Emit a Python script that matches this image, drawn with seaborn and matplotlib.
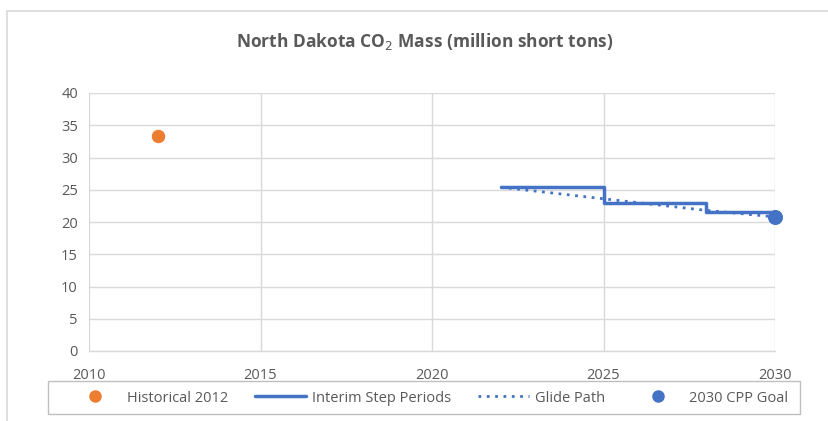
import matplotlib
matplotlib.use("Agg")
import matplotlib.pyplot as plt
import seaborn as sns
import pandas as pd
from matplotlib.lines import Line2D

# Data
hist_year = [2012]
hist_value = [33.3]

step_years = [2022, 2025, 2025, 2028, 2028, 2030]
step_values = [25.4, 25.4, 23.0, 23.0, 21.6, 21.6]

glide_years = [2022, 2023, 2024, 2025, 2026, 2027, 2028, 2029, 2030]
glide_values = [25.4, 24.8, 24.2, 23.6, 23.0, 22.4, 21.8, 21.3, 20.8]

goal_year = [2030]
goal_value = [20.8]

x_ticks = [2010, 2015, 2020, 2025, 2030]
y_ticks = [0, 5, 10, 15, 20, 25, 30, 35, 40]

sns.set_theme(style="white")
plt.rcParams['font.family'] = ['Open Sans', 'DejaVu Sans']

W, H = 829, 421
fig = plt.figure(figsize=(W / 100, H / 100), dpi=100)
ax = fig.add_axes([89 / W, 1 - 351 / H, (775 - 89) / W, (351 - 93) / H])

blue = "#4472C4"
orange = "#ED7D31"
gray_text = "#595959"
grid = "#D9D9D9"

step_df = pd.DataFrame({"year": step_years, "value": step_values})
glide_df = pd.DataFrame({"year": glide_years, "value": glide_values})

sns.scatterplot(x=hist_year, y=hist_value, ax=ax, color=orange, s=80,
                edgecolor=orange, zorder=5)
sns.lineplot(data=step_df, x="year", y="value", ax=ax, color=blue, lw=2.5,
             sort=False, estimator=None, zorder=3)
sns.lineplot(data=glide_df, x="year", y="value", ax=ax, color=blue, lw=2,
             linestyle=(0, (1, 2)), sort=False, estimator=None, zorder=3)
sns.scatterplot(x=goal_year, y=goal_value, ax=ax, color=blue, s=100,
                edgecolor=blue, zorder=6, clip_on=False)

ax.set_xlim(2010, 2030)
ax.set_ylim(0, 40)
ax.set_xticks(x_ticks)
ax.set_yticks(y_ticks)
ax.set_xlabel("")
ax.set_ylabel("")
ax.grid(True, color=grid, lw=1)
ax.set_axisbelow(True)
for s in ["top", "right", "left"]:
    ax.spines[s].set_visible(False)
ax.spines["bottom"].set_color(grid)
ax.spines["bottom"].set_linewidth(1)
ax.tick_params(axis="both", colors=gray_text, labelsize=10.5, length=0)
ax.tick_params(axis="y", pad=8)
ax.tick_params(axis="x", pad=12)

fig.text(425 / W, 1 - 42 / H, "North Dakota CO$_2$ Mass (million short tons)",
         ha="center", va="center", fontsize=12.5, fontweight="bold",
         color=gray_text)

handles = [
    Line2D([], [], marker="o", color=orange, linestyle="none", markersize=8),
    Line2D([], [], color=blue, lw=2.5),
    Line2D([], [], color=blue, lw=2, linestyle=(0, (1, 2))),
    Line2D([], [], marker="o", color=blue, linestyle="none", markersize=8),
]
labels = ["Historical 2012", "Interim Step Periods", "Glide Path", "2030 CPP Goal"]
leg = fig.legend(handles, labels, ncol=4, loc="center",
                 bbox_to_anchor=(429 / W, 1 - 398 / H), frameon=False,
                 fontsize=10.5, handlelength=3.5,
                 columnspacing=1.85, handletextpad=0.4, borderpad=0.5)
for t in leg.get_texts():
    t.set_color(gray_text)

# legend box
fig.patches.append(plt.Rectangle((48 / W, 1 - 414 / H), (800 - 48) / W, (414 - 381) / H,
                                 transform=fig.transFigure, fill=False,
                                 edgecolor="#BFBFBF", lw=1, zorder=0))

# outer chart border (top and left only visible)
fig.add_artist(Line2D([7 / W, 1], [1 - 11 / H, 1 - 11 / H], transform=fig.transFigure,
                      color="#D9D9D9", lw=1.2))
fig.add_artist(Line2D([7 / W, 7 / W], [0, 1 - 11 / H], transform=fig.transFigure,
                      color="#D9D9D9", lw=1.2))

fig.savefig("out.png", dpi=100)
